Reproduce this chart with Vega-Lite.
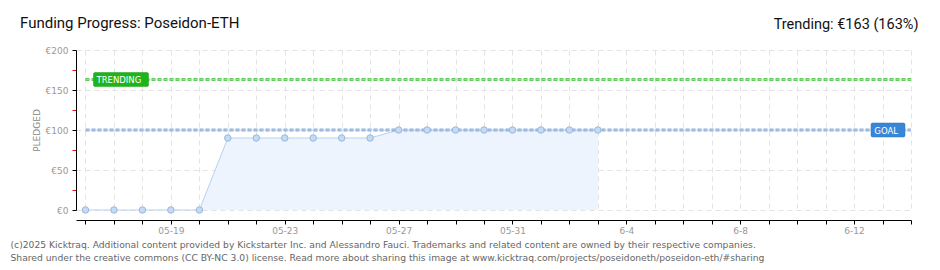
{
  "$schema": "https://vega.github.io/schema/vega-lite/v6.json",
  "width": 835,
  "height": 160,
  "autosize": "none",
  "padding": {"left": 76, "top": 50, "right": 29, "bottom": 60},
  "background": "white",
  "config": {"view": {"stroke": null}},
  "title": {
    "text": "Funding Progress: Poseidon-ETH",
    "anchor": "start",
    "frame": "group",
    "dx": -56,
    "dy": 27,
    "offset": 0,
    "baseline": "alphabetic",
    "font": "Roboto, sans-serif",
    "fontSize": 15,
    "fontWeight": "normal",
    "color": "#111"
  },
  "datasets": {
    "pledges": [
      {"date": "2025-05-16", "amount": 0},
      {"date": "2025-05-17", "amount": 0},
      {"date": "2025-05-18", "amount": 0},
      {"date": "2025-05-19", "amount": 0},
      {"date": "2025-05-20", "amount": 0},
      {"date": "2025-05-21", "amount": 90},
      {"date": "2025-05-22", "amount": 90},
      {"date": "2025-05-23", "amount": 90},
      {"date": "2025-05-24", "amount": 90},
      {"date": "2025-05-25", "amount": 90},
      {"date": "2025-05-26", "amount": 90},
      {"date": "2025-05-27", "amount": 100},
      {"date": "2025-05-28", "amount": 100},
      {"date": "2025-05-29", "amount": 100},
      {"date": "2025-05-30", "amount": 100},
      {"date": "2025-05-31", "amount": 100},
      {"date": "2025-06-01", "amount": 100},
      {"date": "2025-06-02", "amount": 100},
      {"date": "2025-06-03", "amount": 100}
    ],
    "targets": [
      {"name": "Trending", "amount": 163, "start": "2025-05-16", "end": "2025-06-14"},
      {"name": "Goal", "amount": 100, "start": "2025-05-16", "end": "2025-06-14"}
    ]
  },
  "resolve": {"axis": {"x": "independent"}},
  "encoding": {
    "y": {
      "field": "amount", "type": "quantitative",
      "scale": {"domain": [0, 200], "nice": false},
      "axis": {
        "title": "PLEDGED",
        "values": [0, 25, 50, 75, 100, 125, 150, 175, 200],
        "labelExpr": "datum.value % 50 == 0 ? '€' + datum.value : ''",
        "domain": true,
        "domainColor": "black",
        "domainWidth": 1,
        "ticks": true,
        "tickSize": 4,
        "tickColor": {"condition": {"test": "datum.value % 50 == 0", "value": "black"}, "value": "red"},
        "grid": true,
        "gridOpacity": {"condition": {"test": "datum.value % 50 == 0", "value": 1}, "value": 0},
        "gridColor": "#e3e3e3",
        "gridDash": [5, 4],
        "labelColor": "#999",
        "labelFont": "DejaVu Sans",
        "labelFontSize": 9,
        "labelPadding": 4,
        "labelOverlap": false,
        "labelFlush": false,
        "titleColor": "#888",
        "titleFont": "DejaVu Sans",
        "titleFontSize": 9,
        "titleFontWeight": "normal",
        "titleX": -40,
        "titleY": 80,
        "titleAlign": "center",
        "titleBaseline": "middle"
      }
    }
  },
  "layer": [
    {
      "data": {"name": "pledges"},
      "mark": {"type": "area", "color": "#edf4fd", "opacity": 1, "line": {"color": "#b5d2f2", "strokeWidth": 1}},
      "encoding": {
        "x": {
          "field": "date", "type": "temporal",
          "scale": {"type": "utc", "domain": [{"year": 2025, "month": 5, "date": 15, "hours": 16, "utc": true}, {"year": 2025, "month": 6, "date": 14, "utc": true}], "nice": false},
          "axis": {
            "orient": "bottom",
            "tickCount": {"interval": "day", "step": 1},
            "labelExpr": "(datum.value - utc(2025,4,19)) % 345600000 == 0 ? (utcmonth(datum.value) == 4 ? utcFormat(datum.value, '%m-%d') : utcFormat(datum.value, '%-m-%-d')) : ''",
            "offset": 10,
            "tickSize": 4,
            "domainColor": "black",
            "tickColor": "black",
            "labelColor": "#999",
            "labelFont": "DejaVu Sans",
            "labelFontSize": 9,
            "labelPadding": 2,
            "labelOverlap": false,
            "labelFlush": false,
            "grid": true,
            "gridColor": "#e3e3e3",
            "gridDash": [5, 4],
            "title": ["(c)2025 Kicktraq. Additional content provided by Kickstarter Inc. and Alessandro Fauci. Trademarks and related content are owned by their respective companies.", "Shared under the creative commons (CC BY-NC 3.0) license. Read more about sharing this image at www.kicktraq.com/projects/poseidoneth/poseidon-eth/#sharing"],
            "titleAnchor": "start",
            "titleAlign": "left",
            "titleX": -66,
            "titleY": 27,
            "titleBaseline": "alphabetic",
            "titleFont": "DejaVu Sans",
            "titleFontSize": 9.2,
            "titleFontWeight": "normal",
            "titleColor": "#666",
            "titleLineHeight": 13
          }
        }
      }
    },
    {
      "data": {"name": "targets"},
      "mark": {"type": "rule", "strokeWidth": 3, "strokeDash": [4, 2]},
      "encoding": {
        "x": {
          "field": "start", "type": "temporal",
          "axis": {
            "orient": "top",
            "labels": false, "ticks": false, "domain": false, "grid": false,
            "title": "Trending: €163 (163%)",
            "titleAnchor": "end",
            "titleAlign": "right",
            "titleX": 842,
            "titleY": -22,
            "titleBaseline": "alphabetic",
            "titleFont": "Roboto, sans-serif",
            "titleFontSize": 14.5,
            "titleFontWeight": "normal",
            "titleColor": "#111"
          }
        },
        "x2": {"field": "end"},
        "color": {"field": "name", "type": "nominal", "legend": null, "scale": {"domain": ["Goal", "Trending"], "range": ["#8db0db", "#62c95a"]}}
      }
    },
    {
      "data": {"name": "targets"},
      "mark": {"type": "rule", "strokeWidth": 1, "strokeDash": [4, 2], "strokeDashOffset": -1},
      "encoding": {
        "x": {"field": "start", "type": "temporal", "axis": null},
        "x2": {"field": "end"},
        "stroke": {"field": "name", "type": "nominal", "legend": null, "scale": {"domain": ["Goal", "Trending"], "range": ["#b4cdec", "#9ee39a"]}}
      }
    },
    {
      "data": {"name": "pledges"},
      "mark": {"type": "point", "filled": true, "size": 42, "fill": "#c4dbf6", "stroke": "#99b7dc", "strokeWidth": 1, "opacity": 1},
      "encoding": {
        "x": {"field": "date", "type": "temporal", "axis": null}
      }
    },
    {
      "data": {"name": "targets"},
      "transform": [{"filter": "datum.name == 'Trending'"}],
      "mark": {"type": "point", "shape": "M9,-7H62L63,-6V6L62,7H9L8,6V-6Z", "size": 4, "filled": true, "fill": "#1fb41b", "stroke": "#169c12", "strokeWidth": 0.5, "opacity": 1},
      "encoding": {
        "x": {"field": "start", "type": "temporal", "axis": null}
      }
    },
    {
      "data": {"name": "targets"},
      "transform": [{"filter": "datum.name == 'Trending'"}],
      "mark": {"type": "text", "text": "TRENDING", "align": "left", "baseline": "middle", "dx": 11, "dy": 0.5, "color": "white", "font": "DejaVu Sans", "fontSize": 8.5},
      "encoding": {
        "x": {"field": "start", "type": "temporal", "axis": null}
      }
    },
    {
      "data": {"name": "targets"},
      "transform": [{"filter": "datum.name == 'Goal'"}],
      "mark": {"type": "point", "shape": "M-39,-7H-7L-6,-6V6L-7,7H-39L-40,6V-6Z", "size": 4, "filled": true, "fill": "#3a86d6", "stroke": "#2f74bf", "strokeWidth": 0.5, "opacity": 1},
      "encoding": {
        "x": {"field": "end", "type": "temporal", "axis": null}
      }
    },
    {
      "data": {"name": "targets"},
      "transform": [{"filter": "datum.name == 'Goal'"}],
      "mark": {"type": "text", "text": "GOAL", "align": "right", "baseline": "middle", "dx": -13, "dy": 0.5, "color": "white", "font": "DejaVu Sans", "fontSize": 8.5},
      "encoding": {
        "x": {"field": "end", "type": "temporal", "axis": null}
      }
    }
  ]
}
